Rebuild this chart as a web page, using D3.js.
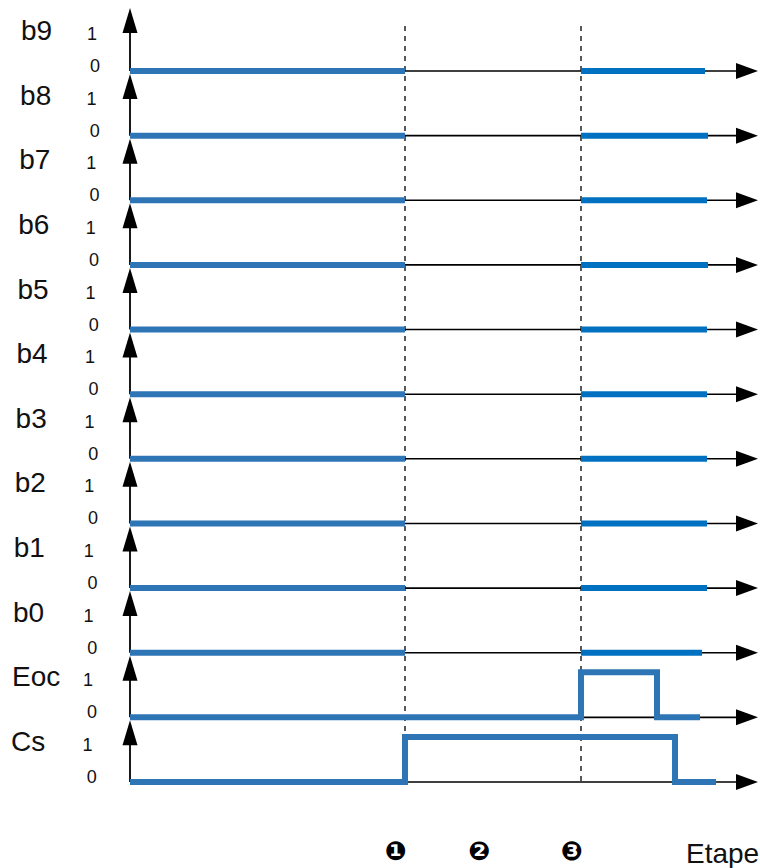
<!DOCTYPE html>
<html>
<head>
<meta charset="utf-8">
<script src="https://cdn.jsdelivr.net/npm/d3@7"></script>
<style>
  html, body { margin: 0; padding: 0; background: #fff; }
  svg { display: block; }
</style>
</head>
<body>
<svg id="chart" width="760" height="868"></svg>
<script>
// ---------- data ----------
const signals = ["b9", "b8", "b7", "b6", "b5", "b4", "b3", "b2", "b1", "b0", "Eoc", "Cs"];
const levelLabels = ["1", "0"];
const stepLabels = ["\u2776", "\u2777", "\u2778"];
const stepTimes = [27.5, 35.8, 45.1];          // time of steps 1, 2, 3
const dashedSteps = [0, 2];                    // steps marked by dashed lines
const axisLabel = "Etape";
// data bits: known (0) from start to step 1, unknown until step 3, then 0 again
const bitKnownEnd = [57.5, 57.8, 57.7, 57.8, 57.7, 57.7, 57.7, 57.7, 57.7, 57.2];
// Eoc / Cs waveforms: [time, level]
const eocWave = [[0, 0], [45.1, 0], [45.1, 1], [52.7, 1], [52.7, 0], [57.0, 0]];
const csWave  = [[0, 0], [27.5, 0], [27.5, 1], [54.5, 1], [54.5, 0], [58.6, 0]];
const timeMax = 62.8;

// ---------- layout ----------
const svg = d3.select("#chart");
const x = d3.scaleLinear().domain([0, 63]).range([130, 760]);
const y = d3.scalePoint().domain(signals).range([71, 782]);
const lvl = d3.scaleLinear().domain([0, 1]).range([0, -45]);
const blueA = "#2E75B6", blueB = "#0070C0";
const font = "'Liberation Sans', Arial, sans-serif";

// dashed step lines
svg.append("g").selectAll("line").data(dashedSteps).join("line")
  .attr("x1", d => x(stepTimes[d])).attr("x2", d => x(stepTimes[d]))
  .attr("y1", 26).attr("y2", y("Cs"))
  .attr("stroke", "#222").attr("stroke-width", 1.5)
  .attr("stroke-dasharray", "5,5");

// axes
const axes = svg.append("g");
signals.forEach((s, i) => {
  const y0 = y(s);
  const tip = i === 0 ? 8 : y(signals[i - 1]) + 3;
  // vertical axis
  axes.append("line").attr("x1", x(0)).attr("x2", x(0))
    .attr("y1", y0).attr("y2", tip + 10)
    .attr("stroke", "#000").attr("stroke-width", 1.8);
  axes.append("path")
    .attr("d", `M${x(0)},${tip} L${x(0) - 7.5},${tip + 25} L${x(0) + 7.5},${tip + 25} Z`)
    .attr("fill", "#000");
  // horizontal axis
  axes.append("line").attr("x1", x(0)).attr("x2", x(timeMax) - 10)
    .attr("y1", y0).attr("y2", y0)
    .attr("stroke", "#000").attr("stroke-width", 1.6);
  axes.append("path")
    .attr("d", `M${x(timeMax)},${y0} L${x(timeMax) - 22},${y0 - 8} L${x(timeMax) - 22},${y0 + 8} Z`)
    .attr("fill", "#000");
});

// data bit segments
const bits = signals.slice(0, 10);
const seg = svg.append("g");
bits.forEach((s, i) => {
  seg.append("line").attr("x1", x(0)).attr("x2", x(stepTimes[0]))
    .attr("y1", y(s) + lvl(0)).attr("y2", y(s) + lvl(0))
    .attr("stroke", blueA).attr("stroke-width", 6);
  seg.append("line").attr("x1", x(stepTimes[2])).attr("x2", x(bitKnownEnd[i]))
    .attr("y1", y(s) + lvl(0)).attr("y2", y(s) + lvl(0))
    .attr("stroke", blueB).attr("stroke-width", 6);
});

// Eoc / Cs waveforms
const line = d3.line();
[["Eoc", eocWave], ["Cs", csWave]].forEach(([s, w]) => {
  seg.append("path")
    .attr("d", line(w.map(([t, v]) => [x(t), y(s) + lvl(v)])))
    .attr("fill", "none").attr("stroke", blueA).attr("stroke-width", 6)
    .attr("stroke-linejoin", "miter");
});

// labels
const lab = svg.append("g").attr("font-family", font).attr("fill", "#111");
signals.forEach((s, i) => {
  const y0 = y(s);
  lab.append("text").attr("x", 21 - i * 0.9).attr("y", y0 - 31)
    .attr("font-size", 28).text(s);
  lab.append("text").attr("x", 87 - i * 0.4).attr("y", y0 - 31)
    .attr("font-size", 18).text(levelLabels[0]);
  lab.append("text").attr("x", 90 - i * 0.3).attr("y", y0 + 1)
    .attr("font-size", 18).text(levelLabels[1]);
});

// step markers
svg.append("g").selectAll("text").data(stepLabels).join("text")
  .attr("x", (d, i) => x(stepTimes[i]) - 9).attr("y", 860)
  .attr("text-anchor", "middle")
  .attr("font-family", "'DejaVu Sans', sans-serif").attr("font-weight", "bold")
  .attr("font-size", 26).attr("fill", "#000")
  .text(d => d);

svg.append("text").attr("x", 686).attr("y", 863)
  .attr("font-family", font).attr("font-size", 28).attr("fill", "#111")
  .text(axisLabel);
</script>
</body>
</html>
